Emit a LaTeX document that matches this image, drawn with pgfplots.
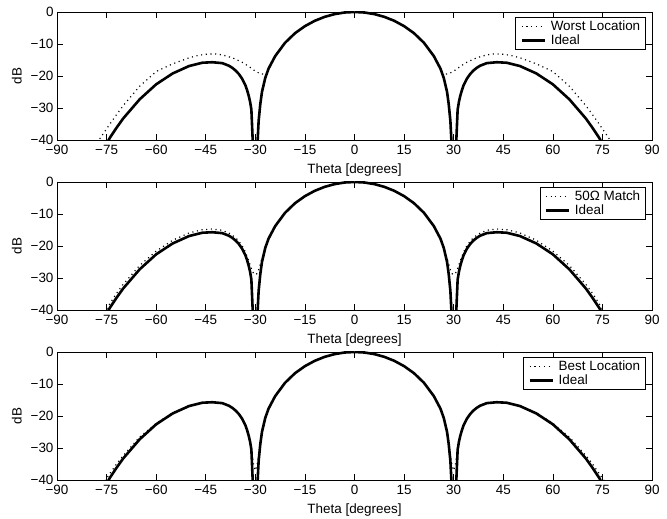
\documentclass[border=0pt]{standalone}
\usepackage{fontspec}
\setmainfont{Liberation Sans}
\usepackage{pgfplots}
\usepackage{pgfplotstable}
\pgfplotsset{compat=1.18}

% Ideal pattern (theta >= 0; mirrored for theta < 0)
\pgfplotstableread{
t d
0 0
3 -0.16
6 -0.66
9 -1.51
12 -2.74
15 -4.42
18 -6.63
21 -9.61
24 -13.79
26 -17.7
27 -20.6
28 -25.0
28.5 -28.8
29 -34
29.3 -40
29.8 -70
30.3 -70
30.8 -40
31.2 -30.5
31.6 -28
32 -26.2
32.5 -24.4
33 -22.9
34 -20.84
35 -19.37
36 -18.27
37 -17.43
38 -16.79
40 -15.98
43 -15.7
46 -15.85
50 -16.87
55 -19.2
60 -22.6
65 -27.3
70 -33.3
72 -36.2
74 -39.3
76 -43
}\ideal

\pgfplotstableread{
t d
0 0
3 -0.16
6 -0.66
9 -1.51
12 -2.74
15 -4.42
18 -6.63
21 -9.61
24 -13.79
26 -17.7
26.5 -19.0
27.5 -19.4
28.5 -19.3
30 -18.5
32 -17.0
34 -15.7
37 -14.3
40 -13.4
42 -13.1
44 -13.1
47 -13.5
50 -14.3
55 -16.2
60 -18.6
65 -23.2
70 -29.3
72.5 -32.8
75 -36.5
77.3 -40
79 -43
}\worst

\pgfplotstableread{
t d
0 0
3 -0.16
6 -0.66
9 -1.51
12 -2.74
15 -4.42
18 -6.63
21 -9.61
24 -13.79
26 -17.6
27 -20.3
28 -24.0
29 -27.4
29.5 -28.6
30 -29.0
30.5 -28.6
31 -27.6
32 -24.6
33 -21.9
34 -19.9
35 -18.5
36 -17.4
37 -16.6
38 -16.0
40 -15.1
43 -14.7
46 -14.9
50 -15.9
55 -18.2
60 -21.6
65 -26.1
70 -32.0
72 -34.8
74 -38.0
75.5 -40.5
77 -43
}\match

\pgfplotstableread{
t d
0 0
3 -0.16
6 -0.66
9 -1.51
12 -2.74
15 -4.42
18 -6.63
21 -9.61
24 -13.79
26 -17.7
27 -20.6
28 -24.8
28.5 -28.4
29 -32.5
29.5 -35.5
30 -37
30.5 -35.5
31 -31.5
31.6 -27.8
32 -26.0
33 -22.8
34 -20.7
35 -19.3
36 -18.2
37 -17.4
38 -16.75
40 -15.95
43 -15.65
46 -15.8
50 -16.8
55 -19.0
60 -22.3
65 -26.6
70 -32.4
72 -35.0
74 -38.0
76 -41
}\best

\pgfplotsset{
  dotline/.style={black, line width=1.2bp, dash pattern=on 1.1bp off 3.6bp},
  idealline/.style={black, line width=2.6bp},
  myax/.style={
    scale only axis, width=595bp, height=128bp,
    anchor=south west,
    xmin=-90, xmax=90, ymin=-40, ymax=0,
    xtick={-90,-75,...,90},
    xticklabels={−90,−75,−60,−45,−30,−15,0,15,30,45,60,75,90},
    ytick={-40,-30,-20,-10,0},
    yticklabels={−40,−30,−20,−10,0},
    tick align=inside, major tick length=6bp,
    xtick pos=both, ytick pos=both,
    xticklabel pos=lower, yticklabel pos=left,
    every tick/.style={black, line width=0.6bp},
    axis line style={black, line width=0.6bp},
    tick label style={font=\fontsize{13.5}{16}\selectfont},
    xticklabel style={yshift=-2bp},
    label style={font=\fontsize{13.5}{16}\selectfont},
    xlabel style={yshift=-2bp},
    ylabel style={yshift=2bp},
    xlabel={Theta [degrees]}, ylabel={dB},
    legend style={at={(1,1)}, anchor=north east, xshift=-6.5bp, yshift=-5bp,
      draw=black, line width=0.6bp, font=\fontsize{13.5}{15}\selectfont,
      inner xsep=3bp, inner ysep=1.5bp, row sep=-1bp, cells={anchor=west}},
    legend cell align=left,
    legend image code/.code={%
      \path[draw=none, fill=none] (0bp,0bp) -- (30bp,0bp);
      \draw[##1] (3bp,0bp) -- (26bp,0bp);},
  }
}

\begin{document}
\begin{tikzpicture}
\path[use as bounding box] (0,0) rectangle (667bp,519bp);

\begin{axis}[myax, at={(57bp,379bp)}]
\addplot[dotline] table[x=t,y=d]{\worst};
\addplot[idealline] table[x=t,y=d]{\ideal};
\addplot[dotline, forget plot] table[x expr=-\thisrow{t},y=d]{\worst};
\addplot[idealline, forget plot] table[x expr=-\thisrow{t},y=d]{\ideal};
\legend{Worst Location, Ideal}
\end{axis}

\begin{axis}[myax, at={(57bp,209bp)}]
\addplot[dotline] table[x=t,y=d]{\match};
\addplot[idealline] table[x=t,y=d]{\ideal};
\addplot[dotline, forget plot] table[x expr=-\thisrow{t},y=d]{\match};
\addplot[idealline, forget plot] table[x expr=-\thisrow{t},y=d]{\ideal};
\legend{50Ω Match, Ideal}
\end{axis}

\begin{axis}[myax, at={(57bp,39bp)}]
\addplot[dotline] table[x=t,y=d]{\best};
\addplot[idealline] table[x=t,y=d]{\ideal};
\addplot[dotline, forget plot] table[x expr=-\thisrow{t},y=d]{\best};
\addplot[idealline, forget plot] table[x expr=-\thisrow{t},y=d]{\ideal};
\legend{Best Location, Ideal}
\end{axis}
\end{tikzpicture}
\end{document}
